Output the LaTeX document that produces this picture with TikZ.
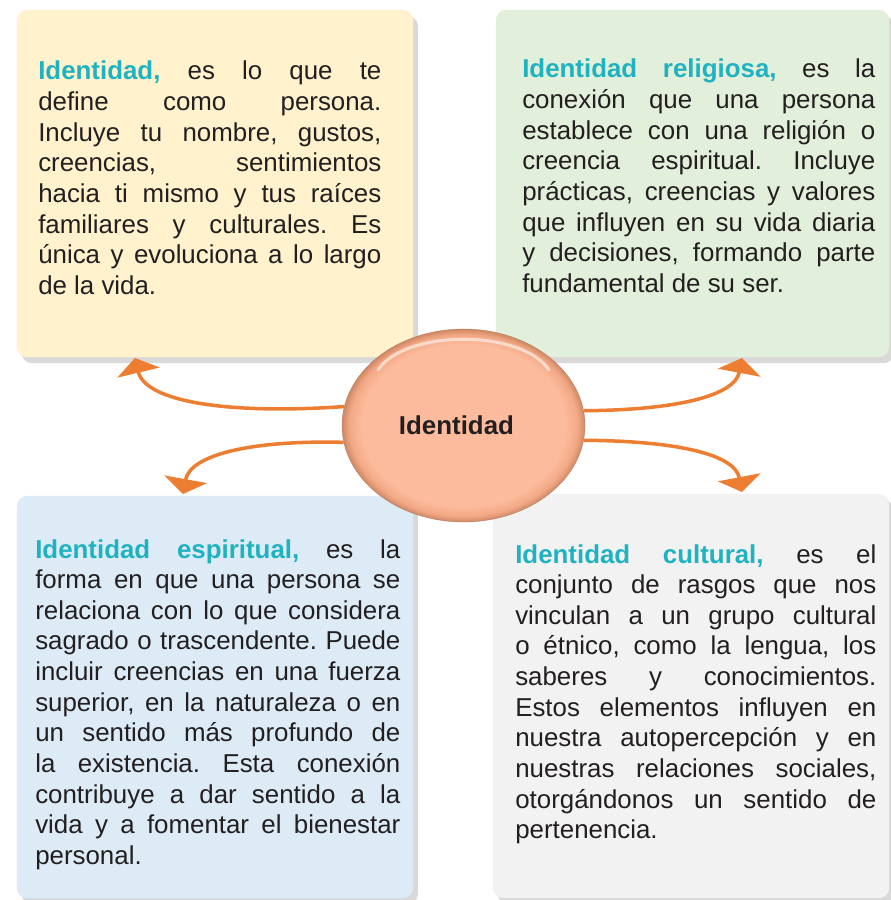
\documentclass[tikz,border=0pt]{standalone}
\usepackage{xcolor}
\usepackage{fontspec}
\setmainfont{Liberation Sans}
\usepackage{tikz}
\usetikzlibrary{calc}
\usetikzlibrary{shapes.geometric}
\usetikzlibrary{shadows}
\usetikzlibrary{arrows.meta}

\definecolor{boxcream}{HTML}{FFF2CC}
\definecolor{boxgreen}{HTML}{E2EFDA}
\definecolor{boxblue}{HTML}{DDEBF7}
\definecolor{boxgray}{HTML}{F2F2F2}
\definecolor{headteal}{HTML}{1FB2C0}
\definecolor{bodytext}{HTML}{231F20}
\definecolor{arroworange}{HTML}{ED7D31}
\definecolor{peachin}{HTML}{FCBB9C}
\definecolor{peachmid}{HTML}{F3A885}
\definecolor{peachrim}{HTML}{CE8864}

\pgfdeclareradialshading{peachbutton}{\pgfpoint{0bp}{0bp}}{%
  color(0bp)=(peachin); color(21bp)=(peachin);
  color(23.5bp)=(peachmid); color(25bp)=(peachrim); color(50bp)=(peachrim)}

\tikzset{
  infobox/.style = {draw = none, rounded corners = .25cm, inner sep = 0pt,
    drop shadow = {shadow xshift = .12cm, shadow yshift = -.15cm, opacity = .3}},
  infotext/.style = {anchor = base west, inner sep = 0pt, align = justify,
    text = bodytext, font = \fontsize{18.4}{21.8}\selectfont,
    execute at begin node = {\frenchspacing\hyphenpenalty=10000 \tolerance=10000}},
  linkarrow/.style = {draw = arroworange, line width = 2.5pt,
    -{Triangle[width = 1.075cm, length = .375cm]}}
}
\newcommand{\idhead}[1]{\textbf{\textcolor{headteal}{#1}}}

\begin{document}
\begin{tikzpicture}[x = .025cm, y = -.025cm]
  \useasboundingbox (0,0) rectangle (890,900);

% boxes
  \node[infobox, fill = boxcream, minimum width = 9.9cm, minimum height = 8.675cm]
    (tlbox) at (215,183.5) {};
  \node[infobox, fill = boxgreen, minimum width = 9.825cm, minimum height = 8.675cm]
    (trbox) at (692.5,183.5) {};
  \node[infobox, fill = boxblue, minimum width = 9.9cm, minimum height = 10.05cm]
    (blbox) at (215,697) {};
  \node[infobox, fill = boxgray, minimum width = 9.9cm, minimum height = 10.1cm]
    (brbox) at (691,696) {};

% texts
  \node[infotext, text width = 8.575cm] (tltext) at (38,80)
  {\idhead{Identidad,} es lo que te\linebreak
  define como persona.\linebreak
  Incluye tu nombre, gustos,\linebreak
  creencias, sentimientos\linebreak
  hacia ti mismo y tus raíces\linebreak
  familiares y culturales. Es\linebreak
  única y evoluciona a lo largo\linebreak
  de la vida.};

  \node[infotext, text width = 8.825cm] (trtext) at (522,78)
  {\idhead{Identidad religiosa,} es la\linebreak
  conexión que una persona\linebreak
  establece con una religión o\linebreak
  creencia espiritual. Incluye\linebreak
  prácticas, creencias y valores\linebreak
  que influyen en su vida diaria\linebreak
  y decisiones, formando parte\linebreak
  fundamental de su ser.};

  \node[infotext, text width = 9.125cm] (bltext) at (35,558)
  {\idhead{Identidad espiritual,} es la\linebreak
  forma en que una persona se\linebreak
  relaciona con lo que considera\linebreak
  sagrado o trascendente. Puede\linebreak
  incluir creencias en una fuerza\linebreak
  superior, en la naturaleza o en\linebreak
  un sentido más profundo de\linebreak
  la existencia. Esta conexión\linebreak
  contribuye a dar sentido a la\linebreak
  vida y a fomentar el bienestar\linebreak
  personal.};

  \node[infotext, text width = 9.025cm] (brtext) at (515,563)
  {\idhead{Identidad cultural,} es el\linebreak
  conjunto de rasgos que nos\linebreak
  vinculan a un grupo cultural\linebreak
  o étnico, como la lengua, los\linebreak
  saberes y conocimientos.\linebreak
  Estos elementos influyen en\linebreak
  nuestra autopercepción y en\linebreak
  nuestras relaciones sociales,\linebreak
  otorgándonos un sentido de\linebreak
  pertenencia.};

% centre
  \node[ellipse, minimum width = 6.075cm, minimum height = 4.825cm, inner sep = 0pt,
    shading = peachbutton, draw = peachrim!80!black, draw opacity = .6, line width = .3pt,
    font = \fontsize{18.4}{21.8}\selectfont\bfseries, text = bodytext]
    (iden) at (463.5,425.5) {Identidad\hspace*{10pt}};
  \draw[white, opacity = .55, line width = 2.2pt, line cap = round]
    (378,370) .. controls (405,329) and (522,329) .. (549,370);

% arrow ends
  \node[shape = coordinate] (tipTL) at (135,358) {};
  \node[shape = coordinate] (tipTR) at (742,358) {};
  \node[shape = coordinate] (tipBL) at (183,494) {};
  \node[shape = coordinate] (tipBR) at (742,492) {};

% arrows
  \draw[linkarrow] (iden.171) .. controls (220,415) and (145,400) .. (tipTL);
  \draw[linkarrow] (iden.188) .. controls (250,440) and (190,455) .. (tipBL);
  \draw[linkarrow] (iden.7) .. controls (680,410) and (735,395) .. (tipTR);
  \draw[linkarrow] (iden.-7) .. controls (680,441) and (735,455) .. (tipBR);

\end{tikzpicture}
\end{document}
